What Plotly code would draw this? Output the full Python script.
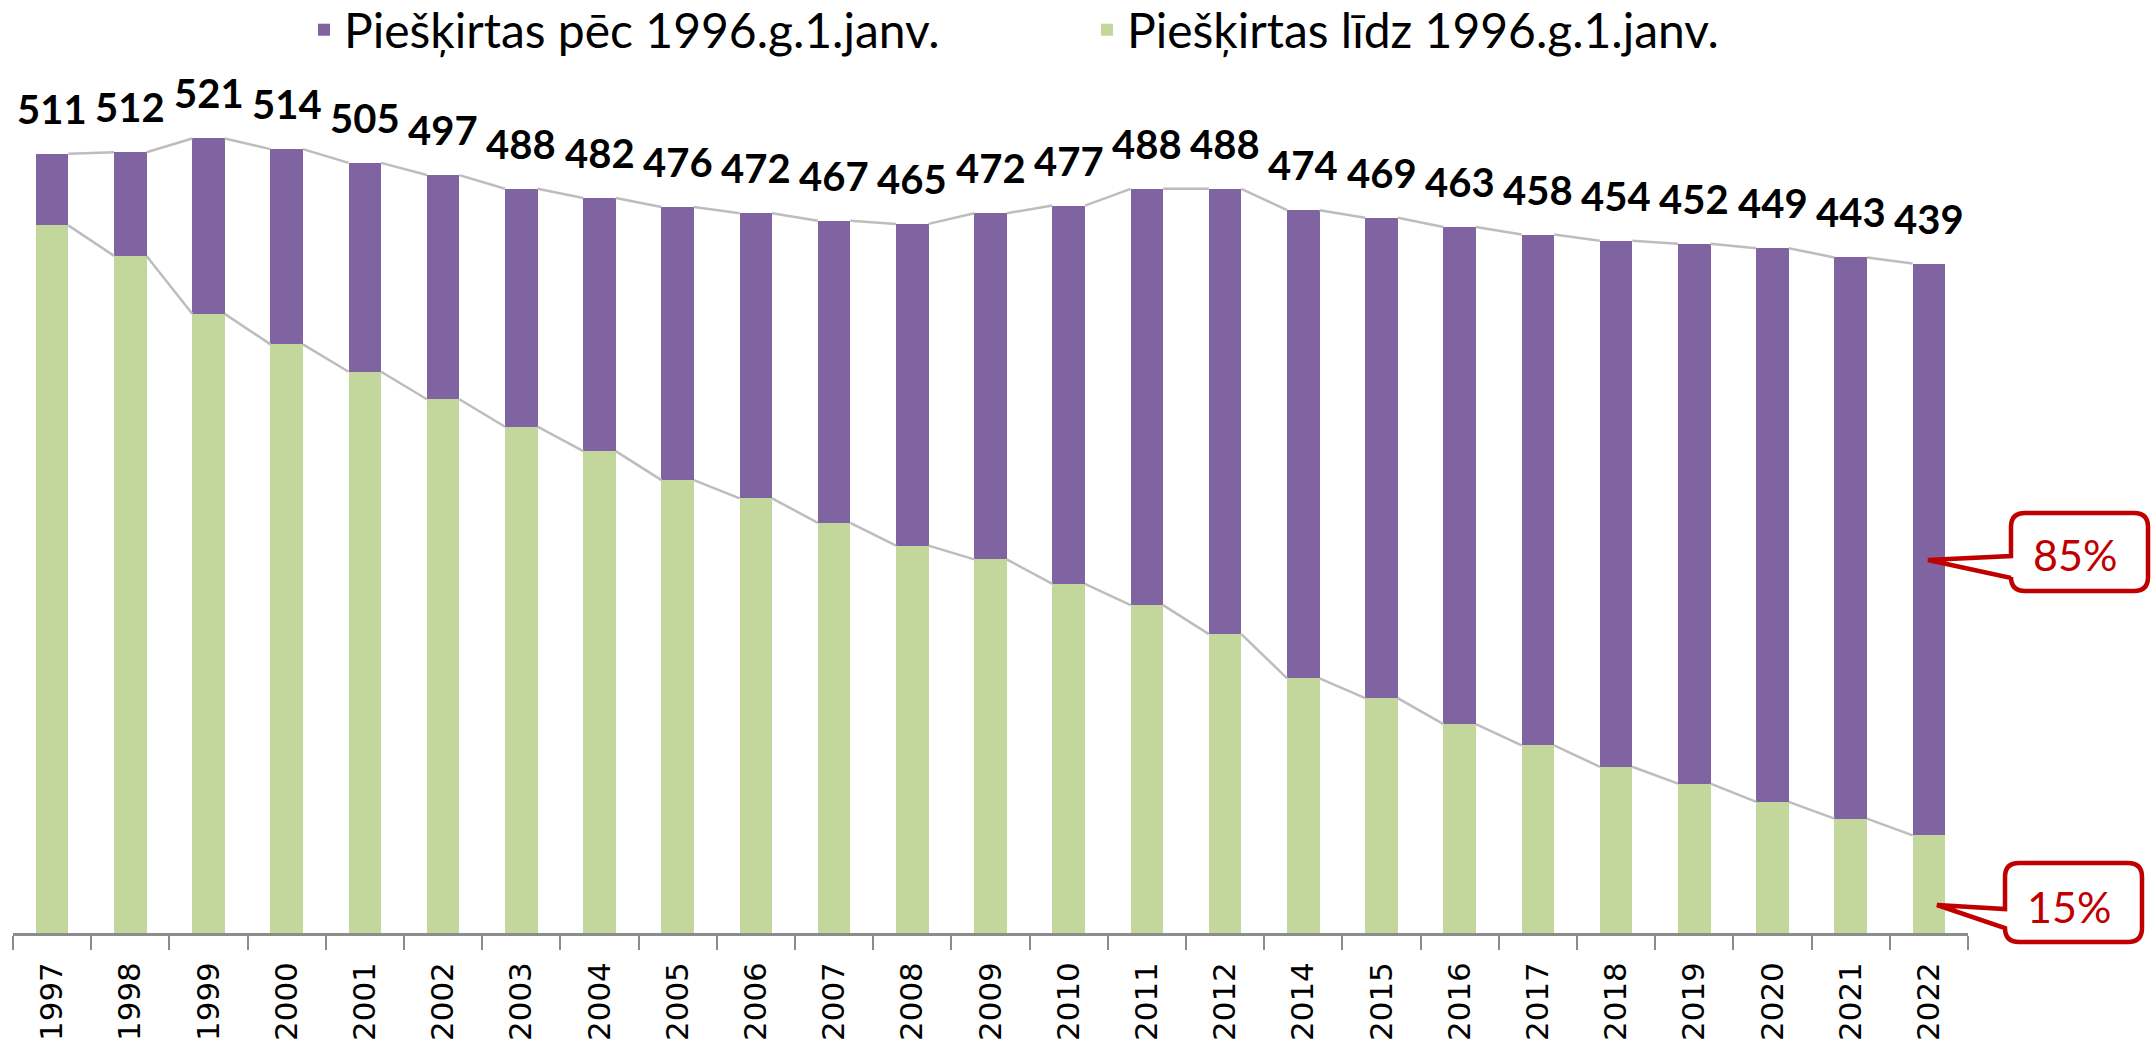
import plotly.graph_objects as go

# ---------------- data ----------------
years = ["1997", "1998", "1999", "2000", "2001", "2002", "2003", "2004", "2005",
         "2006", "2007", "2008", "2009", "2010", "2011", "2012", "2014", "2015",
         "2016", "2017", "2018", "2019", "2020", "2021", "2022"]
totals = [511, 512, 521, 514, 505, 497, 488, 482, 476, 472, 467, 465, 472, 477,
          488, 488, 474, 469, 463, 458, 454, 452, 449, 443, 439]
before_1996 = [464, 444, 406, 386, 368, 350, 332, 316, 297, 285, 269, 254, 245,
               229, 215, 196, 167, 154, 137, 123, 109, 98, 86, 75, 64]
after_1996 = [t - b for t, b in zip(totals, before_1996)]

name_after = "Piešķirtas pēc 1996.g.1.janv."
name_before = "Piešķirtas līdz 1996.g.1.janv."
callout_texts = ["85%", "15%"]

# ---------------- style ----------------
PURPLE = "#8064A2"
GREEN = "#C3D69B"
RED = "#C00000"
LINE_GRAY = "#BDBDBD"
AXIS_GRAY = "#8C8C8C"

W, H = 2156, 1052
ML, MR, MT, MB = 13, 188, 60, 119
PW, PH = W - ML - MR, H - MT - MB
Y_MAX = PH / 1.525
BAR_W = 0.415

idx = list(range(len(years)))

fig = go.Figure()

# series lines (connecting tops of each stacked segment between bars)
def series_line(tops):
    xs, ys = [], []
    for i in range(len(tops) - 1):
        xs += [i + BAR_W / 2, i + 1 - BAR_W / 2, None]
        ys += [tops[i], tops[i + 1], None]
    return xs, ys

for tops in (before_1996, totals):
    xs, ys = series_line(tops)
    fig.add_trace(go.Scatter(x=xs, y=ys, mode="lines", showlegend=False,
                             hoverinfo="skip",
                             line=dict(color=LINE_GRAY, width=2.5)))

fig.add_trace(go.Bar(x=idx, y=before_1996, name=name_before, marker_color=GREEN,
                     marker_line_width=0, width=BAR_W, legendrank=2))
fig.add_trace(go.Bar(x=idx, y=after_1996, name=name_after, marker_color=PURPLE,
                     marker_line_width=0, width=BAR_W, legendrank=1))

# total labels
for i, t in enumerate(totals):
    fig.add_annotation(x=i, y=t, text=f"<b>{t}</b>", showarrow=False,
                       yanchor="middle", yshift=45,
                       font=dict(family="Lato", size=40, color="black"))

# ---------------- callouts ----------------
def px2paper(px, py):
    return (px - ML) / PW, (H - MB - py) / PH

def callout_path(x0, y0, x1, y1, r, w_up, w_low, tip):
    def P(x, y):
        a, b = px2paper(x, y)
        return f"{a:.5f},{b:.5f}"
    s = f"M{P(x0 + r, y0)} L{P(x1 - r, y0)} Q{P(x1, y0)} {P(x1, y0 + r)} "
    s += f"L{P(x1, y1 - r)} Q{P(x1, y1)} {P(x1 - r, y1)} "
    s += f"L{P(x0 + r, y1)} Q{P(x0, y1)} {P(x0, y1 - r)} "
    s += f"L{P(x0, w_low)} L{P(*tip)} L{P(x0, w_up)} "
    s += f"L{P(x0, y0 + r)} Q{P(x0, y0)} {P(x0 + r, y0)} Z"
    return s

callouts = [
    dict(box=(2011, 513, 2148, 591), wedge=(556, 578), tip=(1928, 560),
         text_pos=(2075, 554), text=callout_texts[0]),
    dict(box=(2005, 863, 2142, 942), wedge=(909, 928), tip=(1937, 905),
         text_pos=(2069, 906), text=callout_texts[1]),
]
for c in callouts:
    x0, y0, x1, y1 = c["box"]
    fig.add_shape(type="path", xref="paper", yref="paper",
                  path=callout_path(x0, y0, x1, y1, 14, c["wedge"][0], c["wedge"][1], c["tip"]),
                  fillcolor="white", line=dict(color=RED, width=4.5), layer="above")
    tx, ty = px2paper(*c["text_pos"])
    fig.add_annotation(xref="paper", yref="paper", x=tx, y=ty, text=c["text"],
                       showarrow=False, xanchor="center", yanchor="middle",
                       font=dict(family="Lato", size=43, color=RED))

# ---------------- layout ----------------
fig.update_layout(
    width=W, height=H,
    margin=dict(l=ML, r=MR, t=MT, b=MB, autoexpand=False),
    paper_bgcolor="white", plot_bgcolor="white",
    barmode="stack", bargap=0,
    showlegend=True,
    legend=dict(orientation="h", xref="container", yref="container",
                x=304 / W, y=1 - 30 / H, xanchor="left", yanchor="middle",
                font=dict(family="Lato", size=48, color="black"),
                traceorder="normal", entrywidth=738, itemwidth=30,
                bgcolor="rgba(0,0,0,0)"),
    xaxis=dict(range=[-0.5, len(years) - 0.5], tickmode="array", tickvals=idx,
               ticktext=years, tickangle=-90, ticks="outside", ticklen=14,
               tickcolor="rgba(0,0,0,0)", showline=True, linecolor=AXIS_GRAY,
               linewidth=2.5, showgrid=False, zeroline=False, automargin=False,
               tickfont=dict(family="DejaVu Sans", size=31, color="black"),
               minor=dict(tickmode="array",
                          tickvals=[i - 0.5 for i in range(len(years) + 1)],
                          ticks="outside", ticklen=14, tickcolor=AXIS_GRAY,
                          tickwidth=2, showgrid=False)),
    yaxis=dict(range=[0, Y_MAX], visible=False, showgrid=False, zeroline=False,
               automargin=False),
)

fig.write_html("out.html", config={"displayModeBar": False},
               post_script="document.body.style.margin='0';")
